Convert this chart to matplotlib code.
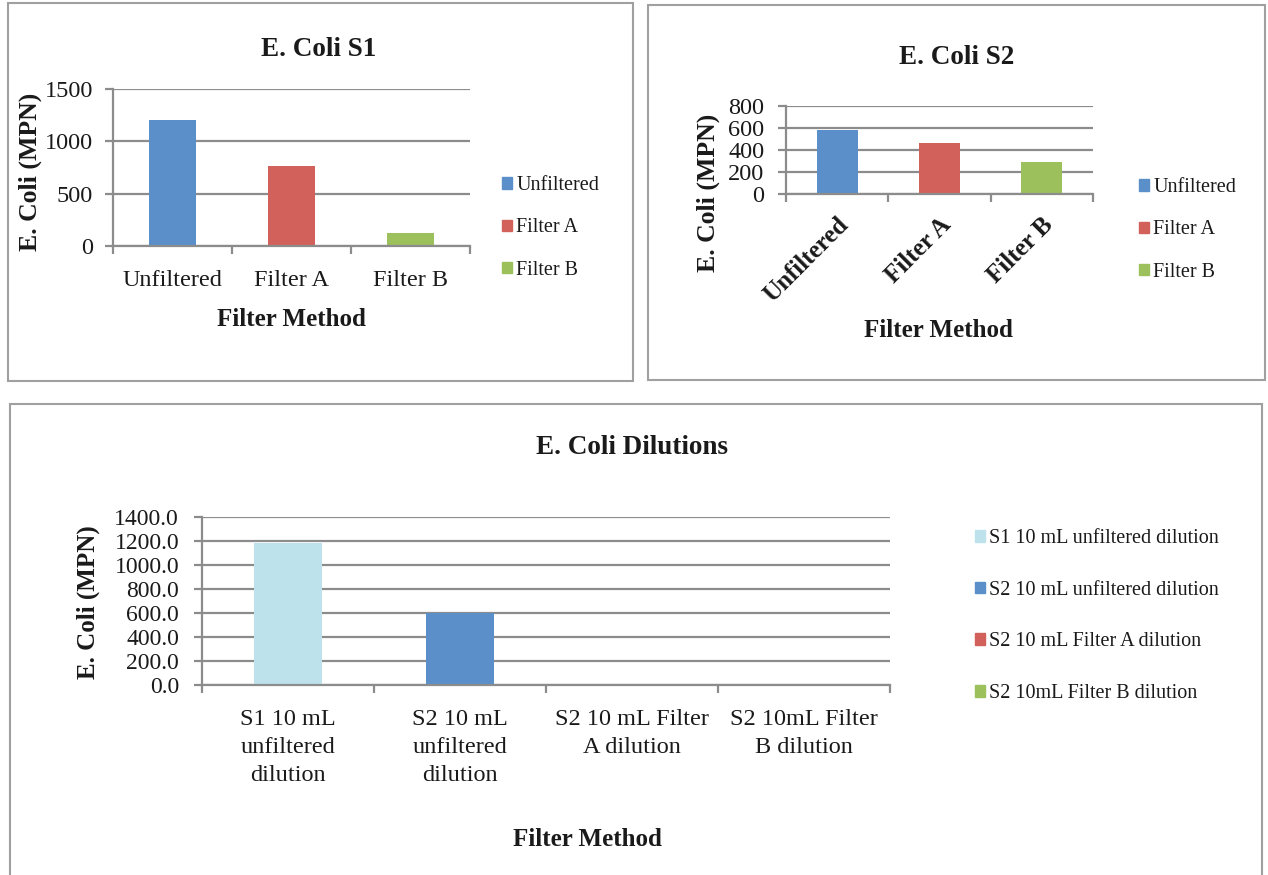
"""E. coli MPN counts by filter method: two sample panels plus the dilution panel."""

import numpy as np
import matplotlib
matplotlib.use("Agg")
import matplotlib.pyplot as plt
from matplotlib.patches import Patch, Rectangle

W, H = 1268, 875

# ----- data -----
s1_methods = ["Unfiltered", "Filter A", "Filter B"]
s1_mpn = [1200, 765, 125]

s2_methods = ["Unfiltered", "Filter A", "Filter B"]
s2_mpn = [580, 460, 290]

dil_ticks = [
    "S1 10 mL\nunfiltered\ndilution",
    "S2 10 mL\nunfiltered\ndilution",
    "S2 10 mL Filter\nA dilution",
    "S2 10mL Filter\nB dilution",
]
dil_names = [
    "S1 10 mL unfiltered dilution",
    "S2 10 mL unfiltered dilution",
    "S2 10 mL Filter A dilution",
    "S2 10mL Filter B dilution",
]
dil_mpn = [1180.0, 600.0, 0.0, 0.0]

# ----- style -----
BLUE = "#5A8FCA"
RED = "#D2615B"
GREEN = "#9CC15C"
LIGHT_BLUE = "#BDE2EC"
GRID = "#8C8C8C"
BORDER = "#A0A0A0"
INK = "#1A1A1A"

method_colors = [BLUE, RED, GREEN]
dil_colors = [LIGHT_BLUE, BLUE, RED, GREEN]

plt.rcParams["font.family"] = ["Liberation Serif", "DejaVu Serif"]
plt.rcParams["text.color"] = INK
plt.rcParams["xtick.color"] = INK
plt.rcParams["ytick.color"] = INK


def px_axes(fig, x0, y0, x1, y1):
    """Axes from pixel box (top-left origin)."""
    return fig.add_axes([x0 / W, 1 - y1 / H, (x1 - x0) / W, (y1 - y0) / H])


def px_text(fig, x, y, s, **kw):
    fig.text(x / W, 1 - y / H, s, ha="center", va="center", **kw)


def px_border(fig, x0, y0, x1, y1):
    fig.add_artist(Rectangle((x0 / W, 1 - y1 / H), (x1 - x0) / W, (y1 - y0) / H,
                             transform=fig.transFigure, fill=False,
                             ec=BORDER, lw=1.5))


def excel_axes(ax, n, ymax, ystep, ypad, xsize, ysize):
    ax.set_xlim(-0.5, n - 0.5)
    ax.set_ylim(0, ymax)
    ax.set_yticks(np.arange(0, ymax + ystep / 2, ystep))
    ax.yaxis.grid(True, color=GRID, lw=1.6)
    ax.set_axisbelow(True)
    ax.patch.set_alpha(0)
    for side in ("top", "right"):
        ax.spines[side].set_visible(False)
    for side in ("left", "bottom"):
        ax.spines[side].set_color(GRID)
        ax.spines[side].set_linewidth(1.6)
    ax.set_xticks(range(n))
    ax.set_xticks(np.arange(-0.5, n), minor=True)
    ax.tick_params(axis="x", which="major", length=0, labelsize=xsize)
    ax.tick_params(axis="x", which="minor", length=5.5, width=1.6, color=GRID)
    ax.tick_params(axis="y", length=5.5, width=1.6, color=GRID,
                   pad=ypad, labelsize=ysize)


def add_legend(ax, names, colors, x, y, size, spacing):
    handles = [Patch(color=c) for c in colors]
    ax.legend(handles, names, loc="center left",
              bbox_to_anchor=(x / W, 1 - y / H),
              bbox_transform=ax.figure.transFigure,
              frameon=False, fontsize=size, handlelength=0.5,
              handleheight=0.5, handletextpad=0.2, borderpad=0,
              borderaxespad=0, labelspacing=spacing)


fig = plt.figure(figsize=(W / 100, H / 100), dpi=100)

# ----- E. Coli S1 -----
px_border(fig, 8, 3, 633, 381)
ax1 = px_axes(fig, 113, 89, 470, 246)
ax1.bar(range(len(s1_mpn)), s1_mpn, width=0.4, color=method_colors)
excel_axes(ax1, len(s1_mpn), 1500, 500, ypad=9, xsize=17.5, ysize=17.5)
ax1.set_xticklabels(s1_methods)
ax1.tick_params(axis="x", which="major", pad=17)
add_legend(ax1, s1_methods, method_colors, 502, 228, 14.5, 1.15)
px_text(fig, 319, 50, "E. Coli S1", fontsize=19.5, fontweight="bold")
px_text(fig, 291, 319, "Filter Method", fontsize=18, fontweight="bold")
px_text(fig, 30, 172, "E. Coli (MPN)", fontsize=18.5, fontweight="bold",
        rotation=90)

# ----- E. Coli S2 -----
px_border(fig, 648, 5, 1265, 380)
ax2 = px_axes(fig, 786, 106, 1093, 194)
ax2.bar(range(len(s2_mpn)), s2_mpn, width=0.4, color=method_colors)
excel_axes(ax2, len(s2_mpn), 800, 200, ypad=10, xsize=18, ysize=17.5)
ax2.set_xticklabels(s2_methods, rotation=45, ha="right",
                    rotation_mode="anchor", fontweight="bold")
ax2.tick_params(axis="x", which="major", pad=14)
add_legend(ax2, s2_methods, method_colors, 1139, 230, 14.5, 1.15)
px_text(fig, 957, 57, "E. Coli S2", fontsize=19.5, fontweight="bold")
px_text(fig, 938, 330, "Filter Method", fontsize=18, fontweight="bold")
px_text(fig, 708, 193, "E. Coli (MPN)", fontsize=18.5, fontweight="bold",
        rotation=90)

# ----- E. Coli Dilutions -----
px_border(fig, 10, 404, 1262, 900)
ax3 = px_axes(fig, 202, 517, 890, 685)
ax3.bar(range(len(dil_mpn)), dil_mpn, width=0.4, color=dil_colors)
excel_axes(ax3, len(dil_mpn), 1400, 200, ypad=11, xsize=17.5, ysize=17)
ax3.yaxis.set_major_formatter(matplotlib.ticker.FormatStrFormatter("%.1f"))
ax3.set_xticklabels(dil_ticks, linespacing=1.45)
ax3.tick_params(axis="x", which="major", pad=17)
add_legend(ax3, dil_names, dil_colors, 975, 616, 14.5, 1.62)
px_text(fig, 632, 448, "E. Coli Dilutions", fontsize=19.5, fontweight="bold")
px_text(fig, 587, 840, "Filter Method", fontsize=18, fontweight="bold")
px_text(fig, 88, 602, "E. Coli (MPN)", fontsize=18, fontweight="bold",
        rotation=90)

fig.savefig("out.png", dpi=100)
